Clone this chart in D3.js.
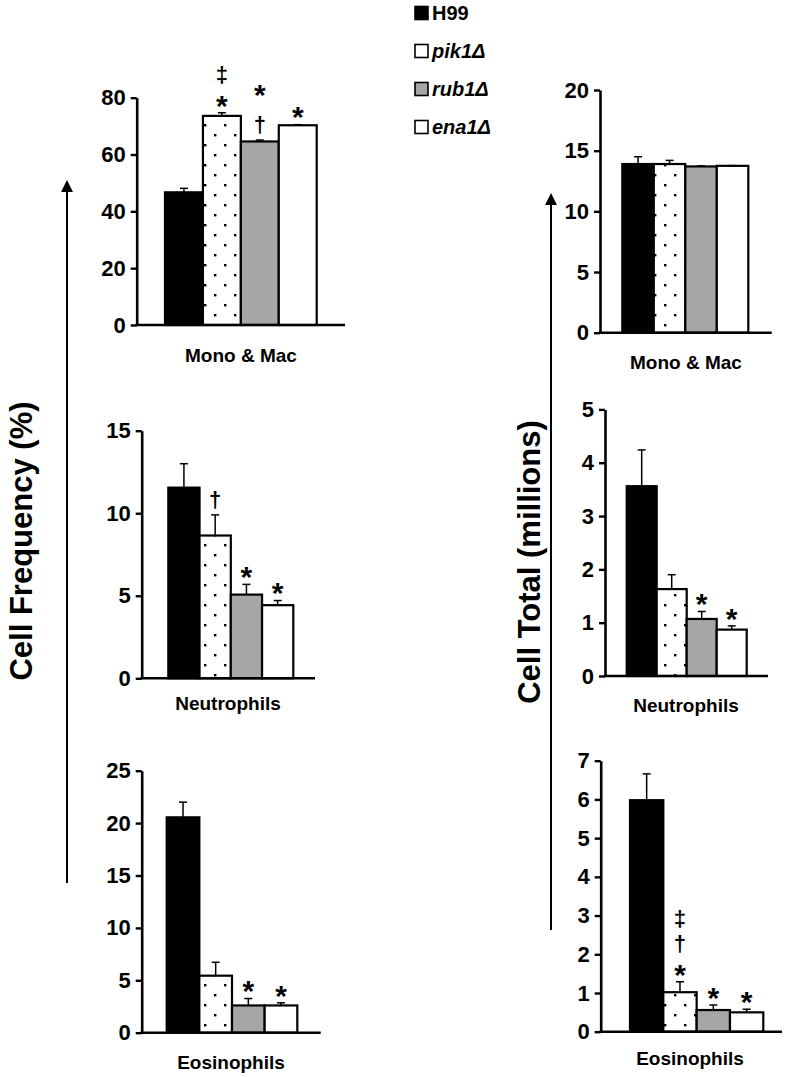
<!DOCTYPE html>
<html>
<head>
<meta charset="utf-8">
<script src="https://cdn.jsdelivr.net/npm/d3@7"></script>
<style>
  html, body { margin: 0; padding: 0; background: #fff; }
  svg { display: block; font-family: "Liberation Sans", Arial, sans-serif; }
</style>
</head>
<body>
<svg id="chart" width="788" height="1077"></svg>
<script>
// ---------------- data ----------------
const strains = ["H99", "pik1Δ", "rub1Δ", "ena1Δ"];
const cellTypes = ["Mono & Mac", "Neutrophils", "Eosinophils"];

// Cell Frequency (%)
const freqMean = [
  [46.7, 73.6, 64.6, 70.3],
  [11.55, 8.65, 5.07, 4.43],
  [20.55, 5.44, 2.6, 2.6]
];
const freqErr = [
  [1.4, 1.1, 0.5, 0.2],
  [1.45, 1.25, 0.62, 0.28],
  [1.45, 1.28, 0.66, 0.25]
];
const freqTicks = [[0, 20, 40, 60, 80], [0, 5, 10, 15], [0, 5, 10, 15, 20, 25]];
const freqSig = [
  [[], ["*", "‡"], ["†", "*"], ["*"]],
  [[], ["†"], ["*"], ["*"]],
  [[], [], ["*"], ["*"]]
];

// Cell Total (millions)
const totalMean = [
  [13.9, 13.9, 13.7, 13.75],
  [3.56, 1.63, 1.07, 0.87],
  [5.98, 1.02, 0.56, 0.5]
];
const totalErr = [
  [0.6, 0.3, 0.05, 0.02],
  [0.68, 0.27, 0.14, 0.07],
  [0.68, 0.27, 0.13, 0.08]
];
const totalTicks = [[0, 5, 10, 15, 20], [0, 1, 2, 3, 4, 5], [0, 1, 2, 3, 4, 5, 6, 7]];
const totalSig = [
  [[], [], [], []],
  [[], [], ["*"], ["*"]],
  [[], ["*", "†", "‡"], ["*"], ["*"]]
];

const yTitles = ["Cell Frequency (%)", "Cell Total (millions)"];

// ---------------- layout ----------------
const layoutLeft = [
  { ax: 136.7, yTop: 97.7, yBot: 325, bL: 165, bR: 316.7, xEnd: 345, lx: 241, ly: 362 },
  { ax: 141.7, yTop: 430.7, yBot: 678.3, bL: 168.3, bR: 293.3, xEnd: 315, lx: 228, ly: 710 },
  { ax: 141.7, yTop: 770.7, yBot: 1032.7, bL: 166.7, bR: 297.3, xEnd: 320.7, lx: 231, ly: 1069 }
];
const layoutRight = [
  { ax: 600, yTop: 90, yBot: 332.7, bL: 622.3, bR: 748.3, xEnd: 771.7, lx: 686, ly: 369 },
  { ax: 605, yTop: 409.4, yBot: 676, bL: 626.7, bR: 746.7, xEnd: 768, lx: 686, ly: 712 },
  { ax: 600.7, yTop: 760.7, yBot: 1031.7, bL: 630, bR: 763.3, xEnd: 782, lx: 690, ly: 1065 }
];

const fills = ["#000000", "url(#dots)", "#a6a6a6", "#ffffff"];
const legendFills = ["#000000", "#ffffff", "#a6a6a6", "#ffffff"];

const svg = d3.select("#chart");
const defs = svg.append("defs");
const pat = defs.append("pattern")
  .attr("id", "dots").attr("patternUnits", "userSpaceOnUse")
  .attr("width", 20).attr("height", 20);
pat.append("rect").attr("width", 20).attr("height", 20).attr("fill", "#fff");
pat.append("rect").attr("x", 4).attr("y", 4).attr("width", 2.4).attr("height", 2.4).attr("fill", "#000");
pat.append("rect").attr("x", 14).attr("y", 14).attr("width", 2.4).attr("height", 2.4).attr("fill", "#000");

defs.append("marker").attr("id", "arrow")
  .attr("viewBox", "0 0 10 10").attr("refX", 5).attr("refY", 5)
  .attr("markerWidth", 6).attr("markerHeight", 6)
  .attr("orient", "auto-start-reverse")
  .append("path").attr("d", "M0,0 L10,5 L0,10 z").attr("fill", "#000");

// glyph size and visual-centre height (in em above baseline)
const symStyle = { "*": { size: 30, c: 0.56 }, "†": { size: 22, c: 0.28 }, "‡": { size: 22, c: 0.28 } };
const ASC = 0.905, DESC = 0.212;

function drawPanel(L, means, errs, ticks, sig, label) {
  const g = svg.append("g");
  const y = d3.scaleLinear().domain([0, d3.max(ticks)]).range([L.yBot, L.yTop]);
  const x = d3.scaleBand().domain(strains).range([L.bL, L.bR]).padding(0);

  // bars
  g.selectAll("rect.bar").data(strains).join("rect")
    .attr("class", "bar")
    .attr("x", d => x(d))
    .attr("y", (d, i) => y(means[i]))
    .attr("width", x.bandwidth())
    .attr("height", (d, i) => y(0) - y(means[i]))
    .attr("fill", (d, i) => fills[i])
    .attr("stroke", "#000").attr("stroke-width", 2.2);

  // error bars (upper only)
  strains.forEach((s, i) => {
    const cx = x(s) + x.bandwidth() / 2;
    const yt = y(means[i] + errs[i]);
    const yb = y(means[i]);
    g.append("line").attr("x1", cx).attr("x2", cx).attr("y1", yb).attr("y2", yt)
      .attr("stroke", "#000").attr("stroke-width", 1.5);
    g.append("line").attr("x1", cx - 4).attr("x2", cx + 4).attr("y1", yt).attr("y2", yt)
      .attr("stroke", "#000").attr("stroke-width", 1.5);
    // significance symbols stacked upward without overlapping boxes
    let prevBase = null, prevSize = null, prevCenter = null;
    sig[i].forEach((sym, k) => {
      const st = symStyle[sym];
      let base;
      if (k === 0) {
        base = yt - 14 + st.c * st.size;
      } else {
        const minBase = prevBase - ASC * prevSize - DESC * st.size - 0.5;
        const wantBase = (prevCenter - 23) + st.c * st.size;
        base = Math.min(minBase, wantBase);
      }
      g.append("text").attr("x", cx).attr("y", base)
        .attr("text-anchor", "middle").attr("font-weight", "bold")
        .attr("font-size", st.size).attr("fill", "#000").text(sym);
      prevBase = base; prevSize = st.size; prevCenter = base - st.c * st.size;
    });
  });

  // y axis
  const yAxis = d3.axisLeft(y).tickValues(ticks).tickSize(6).tickSizeOuter(0).tickPadding(5)
    .tickFormat(d3.format("d"));
  const ag = g.append("g").attr("transform", `translate(${L.ax},0)`).call(yAxis);
  ag.select(".domain").attr("stroke", "#000").attr("stroke-width", 2.6);
  ag.selectAll(".tick line").attr("stroke", "#000").attr("stroke-width", 2.4);
  ag.selectAll(".tick text").attr("font-size", 22).attr("font-weight", "bold")
    .attr("fill", "#000").attr("font-family", "Liberation Sans, Arial, sans-serif");

  // x axis line
  g.append("line").attr("x1", L.ax - 1.3).attr("x2", L.xEnd)
    .attr("y1", y(0)).attr("y2", y(0))
    .attr("stroke", "#000").attr("stroke-width", 2.6);

  // category label
  g.append("text").attr("x", L.lx).attr("y", L.ly).attr("text-anchor", "middle")
    .attr("font-size", 19).attr("font-weight", "bold").text(label);
}

cellTypes.forEach((ct, i) => {
  drawPanel(layoutLeft[i], freqMean[i], freqErr[i], freqTicks[i], freqSig[i], ct);
  drawPanel(layoutRight[i], totalMean[i], totalErr[i], totalTicks[i], totalSig[i], ct);
});

// y titles + arrows
const titleSpecs = [
  { x: 32, y: 541, ax: 67, a1: 883, a2: 180 },
  { x: 540, y: 562, ax: 551, a1: 930, a2: 193 }
];
titleSpecs.forEach((t, i) => {
  svg.append("text").attr("transform", `translate(${t.x},${t.y}) rotate(-90)`)
    .attr("text-anchor", "middle").attr("font-size", 31).attr("font-weight", "bold")
    .text(yTitles[i]);
  svg.append("line").attr("x1", t.ax).attr("x2", t.ax).attr("y1", t.a1).attr("y2", t.a2 + 6)
    .attr("stroke", "#000").attr("stroke-width", 2)
    .attr("marker-end", "url(#arrow)");
});

// legend
const leg = svg.append("g");
const legY = d3.scalePoint().domain(strains).range([13, 127]);
strains.forEach((s, i) => {
  leg.append("rect").attr("x", 415).attr("y", legY(s) - 6.5).attr("width", 13).attr("height", 13)
    .attr("fill", legendFills[i]).attr("stroke", "#000").attr("stroke-width", 1.6);
  leg.append("text").attr("x", 432).attr("y", legY(s) + 7)
    .attr("font-size", 20).attr("font-weight", "bold")
    .attr("font-style", i === 0 ? "normal" : "italic")
    .text(s);
});
</script>
</body>
</html>
